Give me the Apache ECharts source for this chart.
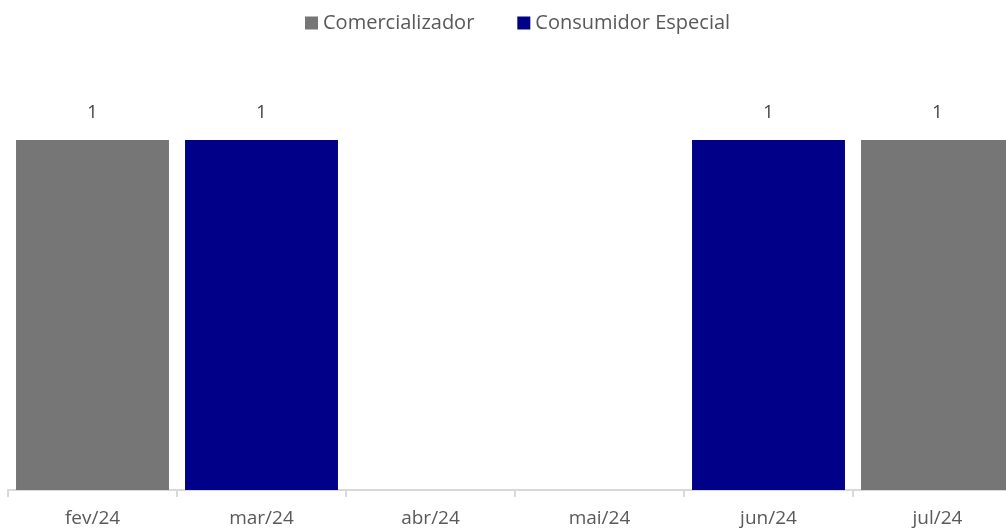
<!DOCTYPE html>
<html><head><meta charset="utf-8">
<script src="https://cdn.jsdelivr.net/npm/echarts@6/dist/echarts.min.js"></script>
<style>html,body{margin:0;padding:0;background:#fff;overflow:hidden;width:1006px;height:528px}#c{width:1022px;height:528px}</style>
</head><body><div id="c"></div>
<script>
const categories = ['fev/24','mar/24','abr/24','mai/24','jun/24','jul/24'];
const comercializador = [1,'-','-','-','-',1];
const consumidorEspecial = ['-',1,'-','-',1,'-'];
const seriesNames = ['Comercializador','Consumidor Especial'];
const colors = ['#767676','#000088'];
const font = "'Open Sans', 'Noto Sans', sans-serif";
const chart = echarts.init(document.getElementById('c'));
const lbl = {show:true, position:'top', distance:18, color:'#404040', fontSize:18, fontFamily:font};
chart.setOption({
  animation:false,
  color: colors,
  legend:{top:8, left:300, itemWidth:13, itemHeight:13, itemGap:43, icon:'rect',
    textStyle:{color:'#595959', fontSize:20, fontFamily:font}},
  grid:{left:8, right:0, top:140, bottom:38, containLabel:false},
  xAxis:{type:'category', data:categories,
    axisLine:{lineStyle:{color:'#d9d9d9', width:2}},
    axisTick:{show:true, length:7, lineStyle:{color:'#d9d9d9', width:2}},
    axisLabel:{color:'#595959', fontSize:19, fontFamily:font, margin:19}},
  yAxis:{type:'value', min:0, max:1, show:false, splitLine:{show:false}},
  series:[
    {name:seriesNames[0], type:'bar', stack:'a', data:comercializador, barWidth:'90.5%', label:lbl},
    {name:seriesNames[1], type:'bar', stack:'a', data:consumidorEspecial, barWidth:'90.5%', label:lbl}
  ]
});
</script></body></html>
